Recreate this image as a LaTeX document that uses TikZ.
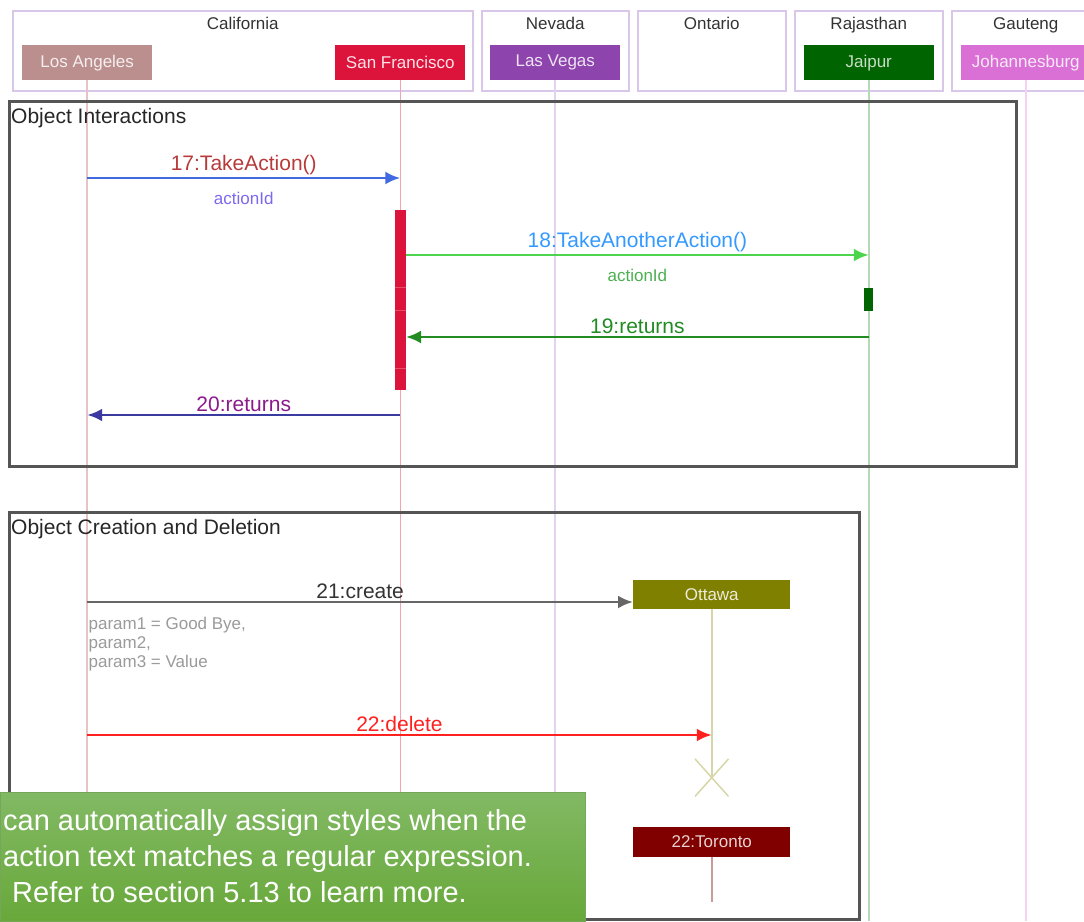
\documentclass[tikz,border=0pt]{standalone}
\usepackage{fontspec}
\setmainfont{Liberation Sans}
\usepackage{tikz}
\usetikzlibrary{positioning}
\usetikzlibrary{positioning,arrows.meta,shapes.misc}

\definecolor{groupline}{HTML}{D9C7E9}
\definecolor{titlegray}{HTML}{333333}
\definecolor{framegray}{HTML}{555555}
\definecolor{laFill}{HTML}{BC8F8F}
\definecolor{laLine}{HTML}{E6C3C6}
\definecolor{sfFill}{HTML}{DC143C}
\definecolor{sfLine}{HTML}{F3A3B4}
\definecolor{lvFill}{HTML}{8E44AD}
\definecolor{lvLine}{HTML}{E2D3F1}
\definecolor{jpFill}{HTML}{006400}
\definecolor{jpLine}{HTML}{B5D9B5}
\definecolor{joFill}{HTML}{DA70D6}
\definecolor{joLine}{HTML}{F3D2F3}
\definecolor{olFill}{HTML}{808000}
\definecolor{olLine}{HTML}{D6D6A8}
\definecolor{torFill}{HTML}{800000}
\definecolor{torLine}{HTML}{C89A9A}
\definecolor{royal}{HTML}{4169E1}
\definecolor{brick}{HTML}{B83A3A}
\definecolor{slate}{HTML}{7B68EE}
\definecolor{lightgreen}{HTML}{4CD44C}
\definecolor{skyblue}{HTML}{3399FF}
\definecolor{midgreen}{HTML}{4CAF50}
\definecolor{forest}{HTML}{228B22}
\definecolor{navyblue}{HTML}{3A3AA0}
\definecolor{plum}{HTML}{8B1A8B}
\definecolor{creategray}{HTML}{666666}
\definecolor{paramgray}{HTML}{9A9A9A}
\definecolor{deletered}{HTML}{FF2020}
\definecolor{noteTop}{HTML}{82B964}
\definecolor{noteBottom}{HTML}{68A83A}

\newcommand{\callarrow}[5]{%
\draw[callline,#4] (#1 |- 0,#3) -- (#2 |- 0,#3) #5;%
}

\tikzset{
	groupbox/.style={draw=groupline, line width=1.5pt, minimum width=148pt, minimum height=80pt, inner sep=0pt},
	grouptitle/.style={font=\fontsize{17}{20}\selectfont, text=titlegray, inner sep=0pt},
	actor/.style={minimum width=130pt, minimum height=35pt, inner sep=0pt, font=\fontsize{17}{20}\selectfont},
	lifeline/.style={line width=1.6pt},
	framebox/.style={draw=framegray, line width=2.8pt, inner sep=0pt, anchor=north west},
	framelabel/.style={font=\fontsize{21}{25}\selectfont, text=black!85, inner sep=0pt},
	callline/.style={-{Latex[length=15pt,width=13pt]}, line width=2.8pt},
	callabel/.style={midway, above, inner sep=2pt, font=\fontsize{21}{25}\selectfont},
	sublabel/.style={midway, below=13pt, inner sep=0pt, font=\fontsize{17}{20}\selectfont},
	actbar/.style={minimum width=11pt, inner sep=0pt},
}

\begin{document}
\begin{tikzpicture}[x=1pt, y=-1pt]
\path[use as bounding box, clip] (0,0) rectangle (1084,921);
\coordinate (floor) at (0,921);

% Regions
\node [groupbox,
	minimum width=460pt,
	anchor=north west
]  (cal) at (12,10) {};
\node [groupbox,
	minimum width=147pt,
	right = 7.5pt of cal
]  (nev) {};
\node [groupbox,
	right = 7.5pt of nev
]  (ont) {};
\node [groupbox,
	right = 7.5pt of ont
]  (raj) {};
\node [groupbox,
	right = 7.5pt of raj
]  (gau) {};

\node [grouptitle, below = 7pt of cal.north] (calt) {California};
\node [grouptitle, below = 7pt of nev.north] (nevt) {Nevada};
\node [grouptitle, below = 7pt of ont.north] (ontt) {Ontario};
\node [grouptitle, below = 7pt of raj.north] (rajt) {Rajasthan};
\node [grouptitle, below = 7pt of gau.north] (gaut) {Gauteng};

% Objects
\node [actor,
	fill=laFill,
	text=white!85!laFill,
	below right = 35pt and 10pt of cal.north west
]  (la) {Los Angeles};
\node [actor,
	fill=sfFill,
	text=white!88!sfFill,
	below left = 35pt and 8pt of cal.north east
]  (sf) {San Francisco};
\node [actor,
	fill=lvFill,
	text=white!85!lvFill,
	below = 35pt of nev.north
]  (lv) {Las Vegas};
\node [actor,
	fill=jpFill,
	text=white!78!jpFill,
	below = 35pt of raj.north
]  (jp) {Jaipur};
\node [actor,
	fill=joFill,
	text=white!85!joFill,
	below = 35pt of gau.north
]  (jo) {Johannesburg};

% Lifelines
\draw[lifeline, laLine] (la.south) -- (la.south |- floor);
\draw[lifeline, sfLine] (sf.south) -- (sf.south |- floor);
\draw[lifeline, lvLine] (lv.south) -- (lv.south |- floor);
\draw[lifeline, jpLine] (jp.south) -- (jp.south |- floor);
\draw[lifeline, joLine] (jo.south) -- (jo.south |- floor);

% Object Interactions
\node [framebox, minimum width=1007pt, minimum height=365pt] (oi) at (8,100) {};
\node [framelabel, below right = 8pt and 3pt of oi.north west] (oit) {Object Interactions};

\node [actbar, fill=sfFill, minimum height=180pt, below = 129pt of sf.south] (sfact) {};
\foreach \y in {287,310,368}
	\draw[sfFill!75!white, line width=0.6pt] (sfact.west |- 0,\y) -- (sfact.east |- 0,\y);
\node [actbar, fill=jpFill, minimum width=9pt, minimum height=23pt, below = 207pt of jp.south] (jpact) {};

\callarrow{la.south}{sf.south}{178}{royal}{node[callabel, text=brick] (l17) {17:TakeAction()}
	node[sublabel, text=slate] (p17) {actionId}}
\callarrow{sfact.east}{jp.south}{255}{lightgreen}{node[callabel, text=skyblue] (l18) {18:TakeAnotherAction()}
	node[sublabel, text=midgreen] (p18) {actionId}}
\callarrow{jp.south}{sfact.east}{337}{forest}{node[callabel, text=forest] (l19) {19:returns}}
\callarrow{sf.south}{la.south}{415}{navyblue}{node[callabel, text=plum] (l20) {20:returns}}

% Object Creation and Deletion
\node [framebox, minimum width=850pt, minimum height=407pt] (ocd) at (8,511) {};
\node [framelabel, below right = 8pt and 3pt of ocd.north west] (ocdt) {Object Creation and Deletion};

\node [actor,
	fill=olFill,
	text=white!85!olFill,
	minimum width=157pt,
	minimum height=29pt,
	below = 488pt of ont.south
]  (ott) {Ottawa};
\node [draw=olLine, line width=1.5pt, cross out,
	minimum width=32pt,
	minimum height=36pt,
	inner sep=0pt,
	below = 150pt of ott.south
]  (kill) {};
\draw[lifeline, olLine] (ott.south) -- (kill.center);

\callarrow{la.south}{ott.west}{602}{creategray}{node[callabel, text=titlegray] (l21) {21:create}
	node[at start, anchor=north west, yshift=-14pt, inner sep=0pt, align=left, text=paramgray,
	font=\fontsize{17}{19}\selectfont] (p21) {param1 = Good Bye,\\param2,\\param3 = Value}}
\callarrow{la.south}{ott.south}{735}{deletered}{node[callabel, text=deletered] (l22) {22:delete}}

\node [actor,
	fill=torFill,
	text=white!82!torFill,
	minimum width=157pt,
	minimum height=30pt,
	below = 218pt of ott.south
]  (tor) {22:Toronto};
\coordinate [below = 45pt of tor.south] (torend);
\draw[lifeline, torLine] (tor.south) -- (torend);

% Note
\node [anchor=north west,
	minimum width=585pt,
	minimum height=129pt,
	inner sep=0pt,
	top color=noteTop,
	bottom color=noteBottom,
	draw=noteTop!90!black
]  (note) at (0,792) {};
\node [below right = 17pt and 3pt of note.north west,
	inner sep=0pt,
	align=left,
	text=white,
	font=\fontsize{29}{36}\selectfont
]  (notetxt) {can automatically assign styles when the\\action text matches a regular expression.\\\hspace{9pt}Refer to section 5.13 to learn more.};

\end{tikzpicture}
\end{document}
